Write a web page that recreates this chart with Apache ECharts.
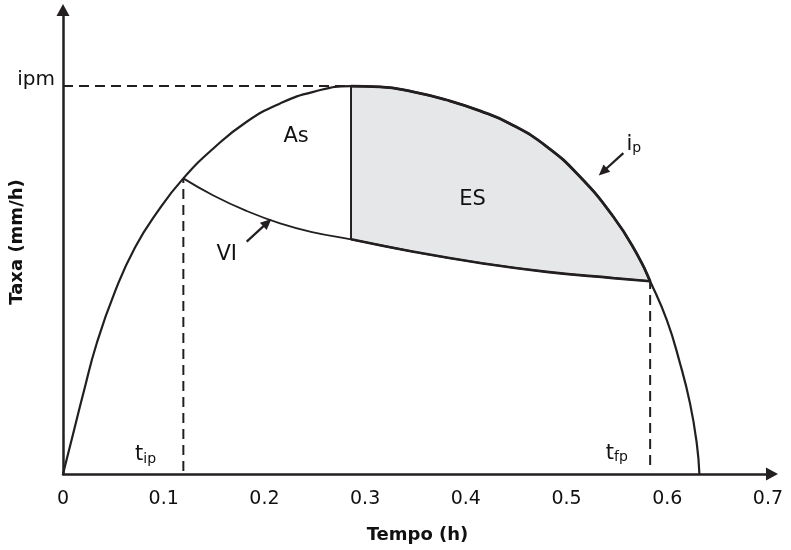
<!DOCTYPE html>
<html>
<head>
<meta charset="utf-8">
<script src="https://cdn.jsdelivr.net/npm/echarts@6/dist/echarts.min.js"></script>
<style>
  html, body { margin: 0; padding: 0; background: #fff; }
  #chart { width: 791px; height: 550px; }
</style>
</head>
<body>
<div id="chart"></div>
<script>
// curva de intensidade de precipitacao ip (tempo h, taxa relativa, ipm = 100)
const ipCurve = [
  [0, 0], [0.0102, 10.5], [0.0202, 20.8], [0.0335, 33.7], [0.0516, 47.0],
  [0.0715, 58.4], [0.0946, 67.9], [0.1195, 76.2], [0.1493, 83.9], [0.1824, 90.8],
  [0.2155, 95.5], [0.2486, 98.5], [0.286, 100], [0.3148, 99.8], [0.3479, 98.5],
  [0.381, 96.4], [0.4141, 93.6], [0.4439, 90.3], [0.4803, 84.4], [0.5134, 76.6],
  [0.5465, 66.3], [0.5697, 56.8], [0.583, 49.7], [0.5995, 39.7], [0.6127, 28.5],
  [0.6226, 18.2], [0.6293, 7.9], [0.6319, 0]
];
// curva de infiltracao VI
const viCurve = [
  [0.1195, 76.2], [0.1493, 71.8], [0.1824, 67.8], [0.2155, 64.6], [0.2486, 62.3],
  [0.286, 60.5], [0.3479, 57.3], [0.4141, 54.4], [0.4803, 52.1], [0.5465, 50.5],
  [0.583, 49.7]
];
const tip = 0.1195, tpm = 0.286, tfp = 0.583, ipm = 100;
const xTicks = [0, 0.1, 0.2, 0.3, 0.4, 0.5, 0.6, 0.7];

// textos e setas (coordenadas em unidades do grafico)
const notes = [
  { text: 'ipm', at: [-0.008, 101.5], align: 'right', size: 20 },
  { text: 'As', at: [0.2314, 87.0], align: 'center' },
  { text: 'ES', at: [0.4067, 70.7], align: 'center' },
  { text: 'VI', at: [0.1626, 56.6], align: 'center' },
  { text: '{m|i}{s|p}', at: [0.5595, 85.0], align: 'left' },
  { text: '{m|t}{s|ip}', at: [0.0715, 4.9], align: 'left' },
  { text: '{m|t}{s|fp}', at: [0.539, 5.4], align: 'left' }
];
const arrows = [
  [[0.1824, 59.9], [0.2029, 64.8]],
  [[0.5564, 82.7], [0.536, 77.9]]
];

const ink = '#231f20';
const textInk = '#111';
const font = 'DejaVu Sans';

const inRange = p => p[0] >= tpm - 1e-9 && p[0] <= tfp + 1e-9;
const esTop = ipCurve.filter(inRange);
const esBottom = viCurve.filter(inRange);
const esPolygon = esTop.concat(esBottom.slice().reverse());

function line(data, width, dashed, smooth) {
  return {
    type: 'line',
    data: data,
    smooth: smooth || false,
    symbol: 'none',
    silent: true,
    z: 3,
    lineStyle: { color: ink, width: width, type: dashed ? [10, 6] : 'solid' }
  };
}

const chart = echarts.init(document.getElementById('chart'), null, { renderer: 'canvas' });

chart.setOption({
  animation: false,
  backgroundColor: '#fff',
  grid: { left: 63, right: 19, top: 10, bottom: 76 },
  xAxis: {
    type: 'value',
    min: 0,
    max: 0.704,
    interval: 0.1,
    name: 'Tempo (h)',
    nameLocation: 'middle',
    nameGap: 52,
    nameTextStyle: { fontFamily: font, fontWeight: 'bold', fontSize: 18, color: textInk },
    axisLine: {
      lineStyle: { color: ink, width: 2.5 },
      symbol: ['none', 'triangle'],
      symbolSize: [13, 12]
    },
    axisTick: { show: false },
    splitLine: { show: false },
    axisLabel: {
      margin: 16,
      fontFamily: font,
      fontSize: 19,
      color: textInk,
      showMaxLabel: false,
      formatter: v => {
        const t = xTicks.find(k => Math.abs(k - v) < 1e-6);
        return t === undefined ? '' : String(t);
      }
    }
  },
  yAxis: {
    type: 'value',
    min: 0,
    max: 119.6,
    name: 'Taxa (mm/h)',
    nameLocation: 'middle',
    nameGap: 37,
    nameTextStyle: { fontFamily: font, fontWeight: 'bold', fontSize: 18, color: textInk },
    axisLine: {
      lineStyle: { color: ink, width: 2.5 },
      symbol: ['none', 'triangle'],
      symbolSize: [13, 12]
    },
    axisTick: { show: false },
    axisLabel: { show: false },
    splitLine: { show: false }
  },
  series: [
    {
      type: 'custom',
      silent: true,
      z: 1,
      data: [[0, 0]],
      renderItem: function (params, api) {
        return {
          type: 'polygon',
          shape: { points: esPolygon.map(p => api.coord(p)) },
          style: { fill: '#e6e7e8' }
        };
      }
    },
    line(ipCurve, 2.2, false, 0.5),
    line(viCurve, 1.8, false, 0.5),
    line(esTop, 2.8, false, 0.5),
    line(esBottom, 2.6, false, 0.5),
    line([[0, ipm], [tpm, ipm]], 2, true),
    line([[tip, 0.8], [tip, 76.2]], 2, true),
    line([[tfp, 2.3], [tfp, 49.7]], 2, true),
    line([[tpm, ipm], [tpm, 60.5]], 2, false),
    {
      // rotulos de texto
      type: 'custom',
      silent: true,
      clip: false,
      z: 5,
      data: notes.map((n, i) => [n.at[0], n.at[1], i]),
      renderItem: function (params, api) {
        const n = notes[api.value(2)];
        const pt = api.coord([api.value(0), api.value(1)]);
        const size = n.size || 21;
        return {
          type: 'text',
          x: pt[0],
          y: pt[1],
          style: {
            text: n.text,
            fill: textInk,
            opacity: 1,
            fontFamily: font,
            fontSize: size,
            align: n.align,
            verticalAlign: 'middle',
            rich: {
              m: { fontFamily: font, fontSize: size, lineHeight: 22, fill: textInk },
              s: { fontFamily: font, fontSize: 14, lineHeight: 14, fill: textInk, verticalAlign: 'bottom' }
            }
          }
        };
      }
    },
    {
      // setas
      type: 'line',
      data: [],
      silent: true,
      markLine: {
        silent: true,
        symbol: ['none', 'triangle'],
        symbolSize: [10, 11],
        label: { show: false },
        lineStyle: { color: ink, width: 2.2, type: 'solid', opacity: 1 },
        data: arrows.map(a => [{ coord: a[0] }, { coord: a[1] }])
      }
    }
  ]
});
</script>
</body>
</html>
